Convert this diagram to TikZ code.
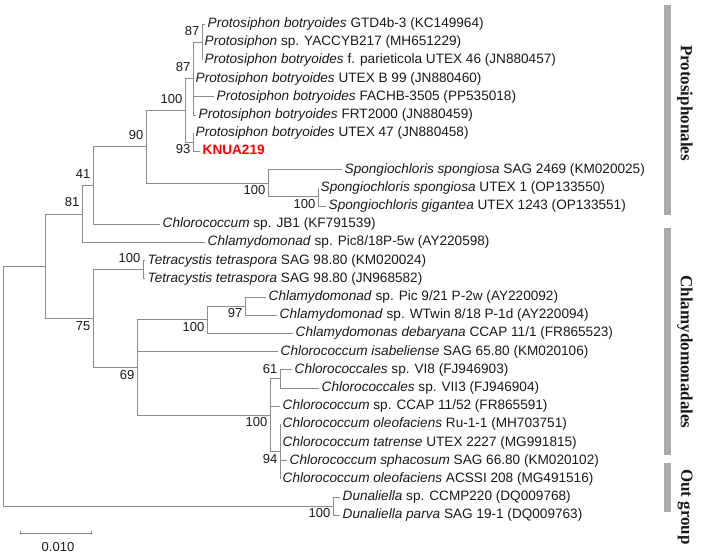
\documentclass[tikz,border=0pt]{standalone}
\usepackage{fontspec}
\setmainfont{Liberation Sans}
\newfontfamily\serifbf{Liberation Serif}
\definecolor{branch}{HTML}{8C8C8C}
\definecolor{barcol}{HTML}{ABABAB}
\definecolor{txt}{HTML}{1A1A1A}
\begin{document}
\begin{tikzpicture}[x=1pt,y=-1pt,
  br/.style={draw=branch, line width=0.9pt},
  leaf/.style={anchor=west, inner xsep=2.5pt, inner ysep=0pt, text height=0.9em, text depth=0.2em, text=txt, font=\fontsize{13.6}{16}\selectfont},
  bsa/.style={anchor=base east, inner sep=0pt, xshift=-2.5pt, yshift=7pt, text=txt, font=\fontsize{13}{15}\selectfont},
  bsb/.style={anchor=base east, inner sep=0pt, xshift=-2.5pt, yshift=-11.5pt, text=txt, font=\fontsize{13}{15}\selectfont},
  cladelabel/.style={rotate=-90, inner sep=0pt, text=txt, font=\serifbf\bfseries\fontsize{17}{20}\selectfont}]
\useasboundingbox (0,0) rectangle (703,556);
% leaves
\node[leaf] (l1) at (205,24.0) {\textit{Protosiphon botryoides} GTD4b-3 (KC149964)};
\node[leaf] (l2) at (202,42.2) {\textit{Protosiphon} sp. YACCYB217 (MH651229)};
\node[leaf] (l3) at (202,60.4) {\textit{Protosiphon botryoides} f. parieticola UTEX 46 (JN880457)};
\node[leaf] (l4) at (193,78.6) {\textit{Protosiphon botryoides} UTEX B 99 (JN880460)};
\node[leaf] (l5) at (214,96.8) {\textit{Protosiphon botryoides} FACHB-3505 (PP535018)};
\node[leaf] (l6) at (196,115.0) {\textit{Protosiphon botryoides} FRT2000 (JN880459)};
\node[leaf] (l7) at (193,133.2) {\textit{Protosiphon botryoides} UTEX 47 (JN880458)};
\node[leaf, text=red, font=\fontsize{13.6}{16}\selectfont\bfseries] (l8) at (200,151.4) {KNUA219};
\node[leaf] (l9) at (342,169.6) {\textit{Spongiochloris spongiosa} SAG 2469 (KM020025)};
\node[leaf] (l10) at (318,187.8) {\textit{Spongiochloris spongiosa} UTEX 1 (OP133550)};
\node[leaf] (l11) at (326,206.0) {\textit{Spongiochloris gigantea} UTEX 1243 (OP133551)};
\node[leaf] (l12) at (160,224.2) {\textit{Chlorococcum} sp. JB1 (KF791539)};
\node[leaf] (l13) at (205,242.4) {\textit{Chlamydomonad} sp. Pic8/18P-5w (AY220598)};
\node[leaf] (l14) at (145,260.6) {\textit{Tetracystis tetraspora} SAG 98.80 (KM020024)};
\node[leaf] (l15) at (145,278.8) {\textit{Tetracystis tetraspora} SAG 98.80 (JN968582)};
\node[leaf] (l16) at (266,297.0) {\textit{Chlamydomonad} sp. Pic 9/21 P-2w (AY220092)};
\node[leaf] (l17) at (277,315.2) {\textit{Chlamydomonad} sp. WTwin 8/18 P-1d (AY220094)};
\node[leaf] (l18) at (293,333.4) {\textit{Chlamydomonas debaryana} CCAP 11/1 (FR865523)};
\node[leaf] (l19) at (278,351.6) {\textit{Chlorococcum isabeliense} SAG 65.80 (KM020106)};
\node[leaf] (l20) at (292,369.8) {\textit{Chlorococcales} sp. VI8 (FJ946903)};
\node[leaf] (l21) at (319,388.0) {\textit{Chlorococcales} sp. VII3 (FJ946904)};
\node[leaf] (l22) at (280,406.2) {\textit{Chlorococcum} sp. CCAP 11/52 (FR865591)};
\node[leaf] (l23) at (280,424.4) {\textit{Chlorococcum oleofaciens} Ru-1-1 (MH703751)};
\node[leaf] (l24) at (280,442.6) {\textit{Chlorococcum tatrense} UTEX 2227 (MG991815)};
\node[leaf] (l25) at (287,460.8) {\textit{Chlorococcum sphacosum} SAG 66.80 (KM020102)};
\node[leaf] (l26) at (280,479.0) {\textit{Chlorococcum oleofaciens} ACSSI 208 (MG491516)};
\node[leaf] (l27) at (340,497.2) {\textit{Dunaliella} sp. CCMP220 (DQ009768)};
\node[leaf] (l28) at (340,515.4) {\textit{Dunaliella parva} SAG 19-1 (DQ009763)};
% internal nodes
\coordinate (n87a) at (202,42.2);
\coordinate (n87b) at (193,78.6);
\coordinate (n93) at (193,142.3);
\coordinate (n100p) at (185,110.45);
\coordinate (nsp2) at (318,196.9);
\coordinate (nsp) at (268,183.25);
\coordinate (n90) at (146,146.85);
\coordinate (n41) at (93,185.5);
\coordinate (n81) at (82,213.95);
\coordinate (nt) at (143,269.7);
\coordinate (n97) at (245,306.1);
\coordinate (n100c) at (207,319.75);
\coordinate (n61) at (280,378.9);
\coordinate (n94) at (280,451.7);
\coordinate (nch) at (270,415.3);
\coordinate (n69) at (137,367.5);
\coordinate (n75) at (93,318.6);
\coordinate (na) at (45,266.3);
\coordinate (ndun) at (333,506.3);
\coordinate (root) at (3,386.3);
% branches
\draw[br] (n87a) |- (l1.west);
\draw[br] (n87a) |- (l2.west);
\draw[br] (n87a) |- (l3.west);
\draw[br] (n87b) |- (n87a);
\draw[br] (n87b) |- (l4.west);
\draw[br] (n87b) |- (l5.west);
\draw[br] (n87b) |- (l6.west);
\draw[br] (n93) |- (l7.west);
\draw[br] (n93) |- (l8.west);
\draw[br] (n100p) |- (n87b);
\draw[br] (n100p) |- (n93);
\draw[br] (nsp2) |- (l10.west);
\draw[br] (nsp2) |- (l11.west);
\draw[br] (nsp) |- (l9.west);
\draw[br] (nsp) |- (nsp2);
\draw[br] (n90) |- (n100p);
\draw[br] (n90) |- (nsp);
\draw[br] (n41) |- (n90);
\draw[br] (n41) |- (l12.west);
\draw[br] (n81) |- (n41);
\draw[br] (n81) |- (l13.west);
\draw[br] (nt) |- (l14.west);
\draw[br] (nt) |- (l15.west);
\draw[br] (n97) |- (l16.west);
\draw[br] (n97) |- (l17.west);
\draw[br] (n100c) |- (n97);
\draw[br] (n100c) |- (l18.west);
\draw[br] (n61) |- (l20.west);
\draw[br] (n61) |- (l21.west);
\draw[br] (n94) |- (l23.west);
\draw[br] (n94) |- (l24.west);
\draw[br] (n94) |- (l25.west);
\draw[br] (n94) |- (l26.west);
\draw[br] (nch) |- (n61);
\draw[br] (nch) |- (l22.west);
\draw[br] (nch) |- (n94);
\draw[br] (n69) |- (n100c);
\draw[br] (n69) |- (l19.west);
\draw[br] (n69) |- (nch);
\draw[br] (n75) |- (nt);
\draw[br] (n75) |- (n69);
\draw[br] (na) |- (n81);
\draw[br] (na) |- (n75);
\draw[br] (ndun) |- (l27.west);
\draw[br] (ndun) |- (l28.west);
\draw[br] (root) |- (na);
\draw[br] (root) |- (ndun);
% bootstrap values
\node[bsa] (b1) at (n87a) {87};
\node[bsa] (b2) at (n87b) {87};
\node[bsa] (b3) at (n100p) {100};
\node[bsb] (b4) at (n93) {93};
\node[bsa] (b5) at (n90) {90};
\node[bsb] (b6) at (nsp) {100};
\node[bsb] (b7) at (nsp2) {100};
\node[bsa] (b8) at (n41) {41};
\node[bsa] (b9) at (n81) {81};
\node[bsa] (b10) at (nt) {100};
\node[bsb] (b11) at (n75) {75};
\node[bsb] (b12) at (n97) {97};
\node[bsb] (b13) at (n100c) {100};
\node[bsb] (b14) at (n69) {69};
\node[bsa, yshift=-2pt] (b15) at (n61) {61};
\node[bsb] (b16) at (nch) {100};
\node[bsb] (b17) at (n94) {94};
\node[bsb] (b18) at (ndun) {100};
% scale bar
\coordinate (sb1) at (20,533);
\coordinate (sb2) at (91,533);
\draw[br] (sb1) -- (sb2);
\draw[br] ([yshift=2pt]sb1) -- ([yshift=-2pt]sb1);
\draw[br] ([yshift=2pt]sb2) -- ([yshift=-2pt]sb2);
\node[text=txt, font=\fontsize{13}{15}\selectfont] (sbl) at (58,547) {0.010};
% clade bars
\fill[barcol] (664,5) rectangle (671,215);
\fill[barcol] (664,228) rectangle (671,455);
\fill[barcol] (664,463) rectangle (671,512);
\node[cladelabel] (c1) at (685,103) {Protosiphonales};
\node[cladelabel] (c2) at (685,352) {Chlamydomonadales};
\node[cladelabel] (c3) at (685,507) {Out group};
\end{tikzpicture}
\end{document}
